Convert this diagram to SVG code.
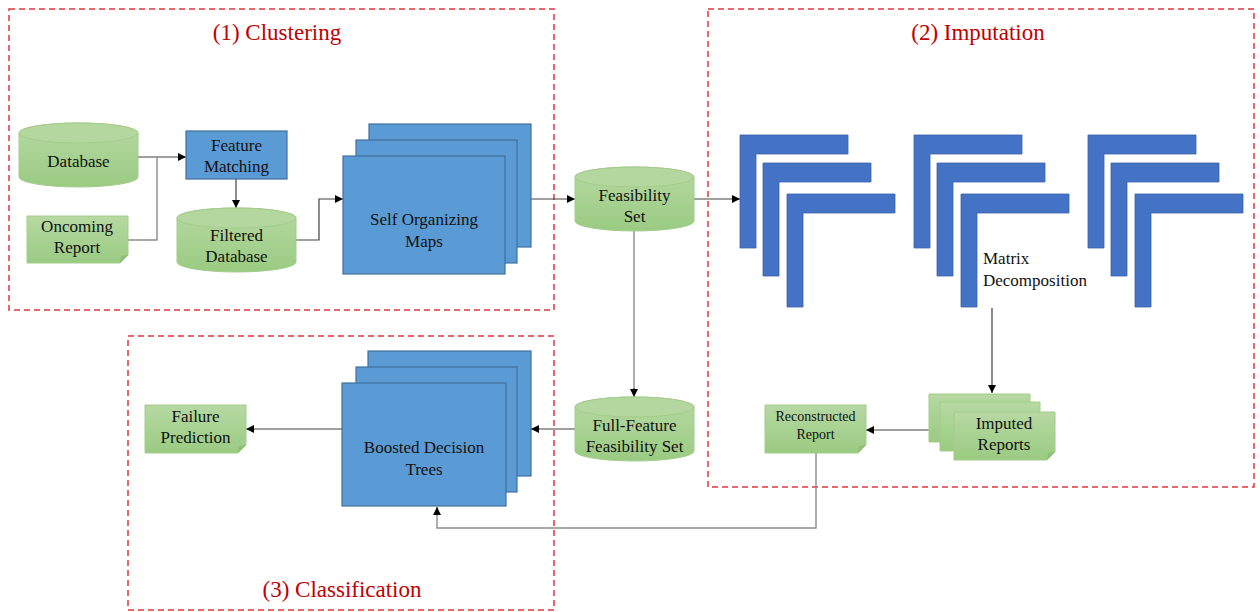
<svg xmlns="http://www.w3.org/2000/svg" width="1260" height="612" viewBox="0 0 1260 612">
  <defs>
    <linearGradient id="gGreen" x1="0" y1="0" x2="0" y2="1">
      <stop offset="0" stop-color="#b6d9a2"/>
      <stop offset="1" stop-color="#9acb82"/>
    </linearGradient>
    <marker id="arr" viewBox="0 0 10 10" refX="10" refY="5" markerWidth="8" markerHeight="8" markerUnits="userSpaceOnUse" orient="auto">
      <path d="M0,0 L10,5 L0,10 Z" fill="#000"/>
    </marker>
  </defs>
  <style>
    .frame { fill: none; stroke: #e0393e; stroke-width: 1.5; stroke-dasharray: 6 4; }
    .title { font-family: "Liberation Serif", serif; font-size: 23px; fill: #c00000; text-anchor: middle; }
    .lbl { font-family: "Liberation Serif", serif; font-size: 17px; fill: #111; text-anchor: middle; }
    .start { text-anchor: start; }
    .small { font-size: 14px; }
    .blue { fill: #5b9bd5; stroke: #41719c; stroke-width: 1.2; }
    .green { fill: url(#gGreen); stroke: #a4cc8c; stroke-width: 1; }
    .cyltop { fill: #b4d79f; stroke: #a4cc8c; stroke-width: 1; }
    .fold { fill: #8fbf76; stroke: none; }
    .mat { fill: #4472c4; stroke: #3a62a8; stroke-width: 0.8; }
    .conn { fill: none; stroke: #404040; stroke-width: 1.2; }
    .conn-g { fill: none; stroke: #8c8c8c; stroke-width: 1.4; }
  </style>

  <!-- stage frames -->
  <g id="stages">
    <rect class="frame" x="9" y="9" width="545" height="301"/>
    <rect class="frame" x="708" y="9" width="546" height="478"/>
    <rect class="frame" x="128" y="336" width="426" height="274"/>
    <text class="title" x="277" y="40">(1) Clustering</text>
    <text class="title" x="978" y="40">(2) Imputation</text>
    <text class="title" x="342" y="597">(3) Classification</text>
  </g>

  <!-- connectors -->
  <g id="connectors">
    <path class="conn" d="M138,157 H186" marker-end="url(#arr)"/>
    <path class="conn-g" d="M128,240 H157 V157"/>
    <path class="conn" d="M236,179 V208" marker-end="url(#arr)"/>
    <path class="conn" d="M296,240 H319 V199 H343" marker-end="url(#arr)"/>
    <path class="conn" d="M531,199 H575" marker-end="url(#arr)"/>
    <path class="conn" d="M694,199 H740" marker-end="url(#arr)"/>
    <path class="conn-g" d="M634,231 V390"/>
    <path class="conn" d="M634,388 V397" marker-end="url(#arr)"/>
    <path class="conn" d="M992,308 V393" marker-end="url(#arr)"/>
    <path class="conn" d="M929,430 H866" marker-end="url(#arr)"/>
    <path class="conn-g" d="M816,453 V528 H437 V512"/>
    <path class="conn" d="M437,514 V507" marker-end="url(#arr)"/>
    <path class="conn" d="M575,429 H531" marker-end="url(#arr)"/>
    <path class="conn" d="M342,429 H246" marker-end="url(#arr)"/>
  </g>

  <!-- Database -->
  <g id="database">
    <path class="green" d="M19,133 A59.5,10 0 0 1 138,133 V177 A59.5,10 0 0 1 19,177 Z"/>
    <ellipse class="cyltop" cx="78.5" cy="133" rx="59.5" ry="10"/>
    <text class="lbl" x="78.5" y="167">Database</text>
  </g>

  <!-- Oncoming Report -->
  <g id="oncoming-report">
    <path class="green" d="M27,216 H128 V255 L120,263 H27 Z"/>
    <path class="fold" d="M128,255 L120,263 L121,256 Z"/>
    <text class="lbl" x="77" y="232">Oncoming</text>
    <text class="lbl" x="77" y="253">Report</text>
  </g>

  <!-- Feature Matching -->
  <g id="feature-matching">
    <rect class="blue" x="186" y="131" width="101" height="48"/>
    <text class="lbl" x="236.5" y="151">Feature</text>
    <text class="lbl" x="236.5" y="172">Matching</text>
  </g>

  <!-- Filtered Database -->
  <g id="filtered-database">
    <path class="green" d="M177,218 A59.5,10 0 0 1 296,218 V262 A59.5,10 0 0 1 177,262 Z"/>
    <ellipse class="cyltop" cx="236.5" cy="218" rx="59.5" ry="10"/>
    <text class="lbl" x="236.5" y="241">Filtered</text>
    <text class="lbl" x="236.5" y="262">Database</text>
  </g>

  <!-- Self Organizing Maps -->
  <g id="som">
    <rect class="blue" x="369" y="124" width="162" height="123"/>
    <rect class="blue" x="356" y="140" width="161" height="123"/>
    <rect class="blue" x="343" y="156" width="162" height="118"/>
    <text class="lbl" x="424" y="225">Self Organizing</text>
    <text class="lbl" x="424" y="247">Maps</text>
  </g>

  <!-- Feasibility Set -->
  <g id="feasibility-set">
    <path class="green" d="M575,177 A59.5,10 0 0 1 694,177 V221 A59.5,10 0 0 1 575,221 Z"/>
    <ellipse class="cyltop" cx="634.5" cy="177" rx="59.5" ry="10"/>
    <text class="lbl" x="634.5" y="201">Feasibility</text>
    <text class="lbl" x="634.5" y="222">Set</text>
  </g>

  <!-- Matrix factor stacks -->
  <g id="matrices">
    <defs>
      <path id="ell" d="M0,0 H108 V19 H16 V113 H0 Z"/>
      <g id="ellstack">
        <use href="#ell" class="mat" x="0" y="0"/>
        <use href="#ell" class="mat" x="23" y="28"/>
        <use href="#ell" class="mat" x="47" y="59"/>
      </g>
    </defs>
    <use href="#ellstack" x="740" y="135"/>
    <use href="#ellstack" x="914" y="135"/>
    <use href="#ellstack" x="1088" y="135"/>
    <text class="lbl start" x="983" y="264">Matrix</text>
    <text class="lbl start" x="983" y="286">Decomposition</text>
  </g>

  <!-- Imputed Reports -->
  <g id="imputed-reports">
    <path class="green" d="M929,394 H1030 V434 L1022,442 H929 Z"/>
    <path class="green" d="M940,402 H1040 V443 L1032,451 H940 Z"/>
    <path class="green" d="M954,412 H1055 V452 L1047,460 H954 Z"/>
    <path class="fold" d="M1055,452 L1047,460 L1048,453 Z"/>
    <text class="lbl" x="1004" y="429">Imputed</text>
    <text class="lbl" x="1004" y="450">Reports</text>
  </g>

  <!-- Reconstructed Report -->
  <g id="reconstructed-report">
    <path class="green" d="M765,405 H866 V445 L858,453 H765 Z"/>
    <path class="fold" d="M866,445 L858,453 L859,446 Z"/>
    <text class="lbl small" x="815.5" y="421">Reconstructed</text>
    <text class="lbl small" x="815.5" y="439">Report</text>
  </g>

  <!-- Full-Feature Feasibility Set -->
  <g id="full-feature-set">
    <path class="green" d="M575,407 A59.5,10 0 0 1 694,407 V451 A59.5,10 0 0 1 575,451 Z"/>
    <ellipse class="cyltop" cx="634.5" cy="407" rx="59.5" ry="10"/>
    <text class="lbl" x="634.5" y="431">Full-Feature</text>
    <text class="lbl" x="634.5" y="452">Feasibility  Set</text>
  </g>

  <!-- Boosted Decision Trees -->
  <g id="boosted-trees">
    <rect class="blue" x="368" y="351" width="163" height="125"/>
    <rect class="blue" x="356" y="367" width="161" height="125"/>
    <rect class="blue" x="342" y="383" width="164" height="123"/>
    <text class="lbl" x="424" y="453">Boosted Decision</text>
    <text class="lbl" x="424" y="475">Trees</text>
  </g>

  <!-- Failure Prediction -->
  <g id="failure-prediction">
    <path class="green" d="M145,405 H246 V445 L238,453 H145 Z"/>
    <path class="fold" d="M246,445 L238,453 L239,446 Z"/>
    <text class="lbl" x="195.5" y="422">Failure</text>
    <text class="lbl" x="195.5" y="443">Prediction</text>
  </g>
</svg>
